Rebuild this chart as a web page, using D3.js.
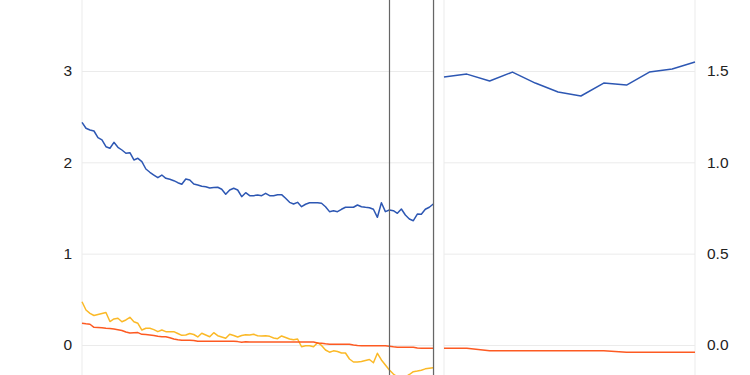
<!DOCTYPE html>
<html>
<head>
<meta charset="utf-8">
<script src="https://cdn.jsdelivr.net/npm/d3@7"></script>
<style>
  html, body { margin: 0; padding: 0; background: #fff; overflow: hidden; }
  .tick text { font-family: "Liberation Sans", Arial, sans-serif; font-size: 15.5px; fill: #222; }
  .grid line { stroke: #ebebeb; }
  .grid .domain { display: none; }
  .series { fill: none; stroke-width: 1.5; stroke-linejoin: round; }
</style>
</head>
<body>
<svg id="chart"></svg>
<script>
// left panel: long monthly run (index 0..88)
const leftBlue = [
  2.438, 2.373, 2.354, 2.343, 2.270, 2.245, 2.171, 2.154, 2.219, 2.165,
  2.135, 2.099, 2.106, 2.026, 2.044, 2.007, 1.927, 1.891, 1.861, 1.832,
  1.861, 1.825, 1.814, 1.799, 1.777, 1.760, 1.818, 1.807, 1.763, 1.752,
  1.738, 1.733, 1.719, 1.725, 1.727, 1.705, 1.650, 1.697, 1.716, 1.697,
  1.624, 1.668, 1.635, 1.635, 1.642, 1.635, 1.661, 1.635, 1.635, 1.646,
  1.646, 1.606, 1.562, 1.544, 1.562, 1.514, 1.541, 1.558, 1.558, 1.558,
  1.552, 1.514, 1.460, 1.470, 1.460, 1.486, 1.508, 1.508, 1.508, 1.533,
  1.514, 1.508, 1.503, 1.486, 1.398, 1.558, 1.460, 1.478, 1.470, 1.442,
  1.489, 1.423, 1.380, 1.361, 1.434, 1.431, 1.486, 1.508, 1.544
];
const leftYellow = [
  0.474, 0.383, 0.347, 0.323, 0.334, 0.345, 0.356, 0.257, 0.285, 0.293,
  0.255, 0.274, 0.303, 0.255, 0.238, 0.164, 0.183, 0.183, 0.168, 0.146,
  0.164, 0.146, 0.146, 0.146, 0.126, 0.106, 0.109, 0.126, 0.115, 0.088,
  0.128, 0.109, 0.091, 0.135, 0.102, 0.088, 0.073, 0.117, 0.104, 0.088,
  0.104, 0.112, 0.109, 0.117, 0.102, 0.099, 0.101, 0.095, 0.077, 0.069,
  0.099, 0.082, 0.066, 0.057, 0.066, -0.019, -0.008, -0.008, -0.019, 0.025,
  -0.005, -0.055, -0.079, -0.064, -0.071, -0.088, -0.088, -0.153, -0.186, -0.186,
  -0.181, -0.170, -0.159, -0.194, -0.091, -0.164, -0.219, -0.274, -0.318, -0.350,
  -0.361, -0.350, -0.323, -0.292, -0.285, -0.276, -0.261, -0.255, -0.249
];
const leftRed = [
  0.238, 0.232, 0.227, 0.194, 0.192, 0.189, 0.184, 0.180, 0.175, 0.168,
  0.159, 0.142, 0.131, 0.134, 0.136, 0.117, 0.114, 0.110, 0.105, 0.096,
  0.091, 0.091, 0.079, 0.066, 0.057, 0.052, 0.052, 0.052, 0.049, 0.041,
  0.041, 0.041, 0.041, 0.041, 0.041, 0.041, 0.041, 0.041, 0.041, 0.037,
  0.030, 0.036, 0.033, 0.033, 0.033, 0.033, 0.033, 0.033, 0.033, 0.033,
  0.033, 0.033, 0.033, 0.033, 0.033, 0.033, 0.033, 0.033, 0.033, 0.022,
  0.019, 0.013, 0.008, 0.008, 0.008, 0.008, 0.008, 0.008, 0.000, -0.006,
  -0.008, -0.008, -0.008, -0.008, -0.008, -0.008, -0.008, -0.013, -0.020, -0.025,
  -0.025, -0.025, -0.025, -0.025, -0.033, -0.036, -0.036, -0.036, -0.036
];
// markers on the left panel (index positions)
const markers = [77, 88];

// right panel: short run on its own axis
const rightBlue = [1.467, 1.483, 1.445, 1.494, 1.434, 1.385, 1.363, 1.434, 1.423, 1.494, 1.511, 1.549];
const rightRed = [-0.018, -0.018, -0.031, -0.031, -0.031, -0.031, -0.031, -0.031, -0.040, -0.040, -0.040, -0.040];

const leftTicks = [0, 1, 2, 3];
const rightTicks = [0, 0.5, 1.0, 1.5];

const colors = { blue: "#2d57b3", yellow: "#fbb927", red: "#fd5a22" };

const width = 750, height = 375;
const left = { x0: 82, x1: 434 };
const right = { x0: 444, x1: 695 };

const svg = d3.select("#chart").attr("width", width).attr("height", height);

const yLeft = d3.scaleLinear().domain([0, 3]).range([345, 71]);
const yRight = d3.scaleLinear().domain([0, 1.5]).range([345, 71]);

const xLeft = d3.scaleLinear().domain([0, leftBlue.length - 1]).range([left.x0, 433.3]);
const xRight = d3.scaleLinear().domain([0, rightBlue.length - 1]).range([right.x0, right.x1]);

// horizontal gridlines + labels
svg.append("g")
  .attr("class", "grid")
  .attr("transform", `translate(${left.x0},0)`)
  .call(d3.axisLeft(yLeft).tickValues(leftTicks).tickSize(-(left.x1 - left.x0)).tickPadding(10).tickFormat(d3.format("d")))
  .call(g => g.selectAll(".tick line").attr("stroke", d => d === 0 ? "#cccccc" : "#ebebeb"));

svg.append("g")
  .attr("class", "grid")
  .attr("transform", `translate(${right.x1},0)`)
  .call(d3.axisRight(yRight).tickValues(rightTicks).tickSize(-(right.x1 - right.x0)).tickPadding(12).tickFormat(d3.format(".1f")))
  .call(g => g.selectAll(".tick line").attr("stroke", d => d === 0 ? "#cccccc" : "#ebebeb"));

// panel edges
[left.x0, left.x1, right.x0, right.x1].forEach(x => {
  svg.append("line")
    .attr("x1", x).attr("x2", x)
    .attr("y1", 0).attr("y2", height)
    .attr("stroke", "#ebebeb");
});

// lines
const lineL = d3.line().x((d, i) => xLeft(i)).y(d => yLeft(d));
const lineR = d3.line().x((d, i) => xRight(i)).y(d => yRight(d));

svg.append("path").attr("class", "series").attr("stroke", colors.yellow).attr("d", lineL(leftYellow));
svg.append("path").attr("class", "series").attr("stroke", colors.red).attr("d", lineL(leftRed));
svg.append("path").attr("class", "series").attr("stroke", colors.blue).attr("d", lineL(leftBlue));

svg.append("path").attr("class", "series").attr("stroke", colors.red).attr("d", lineR(rightRed));
svg.append("path").attr("class", "series").attr("stroke", colors.blue).attr("d", lineR(rightBlue));

// event markers
svg.selectAll(".marker")
  .data(markers)
  .join("line")
  .attr("class", "marker")
  .attr("x1", d => Math.round(xLeft(d)) + 0.5).attr("x2", d => Math.round(xLeft(d)) + 0.5)
  .attr("y1", 0).attr("y2", height)
  .attr("stroke", "#666")
  .attr("stroke-width", 1.2);
</script>
</body>
</html>
